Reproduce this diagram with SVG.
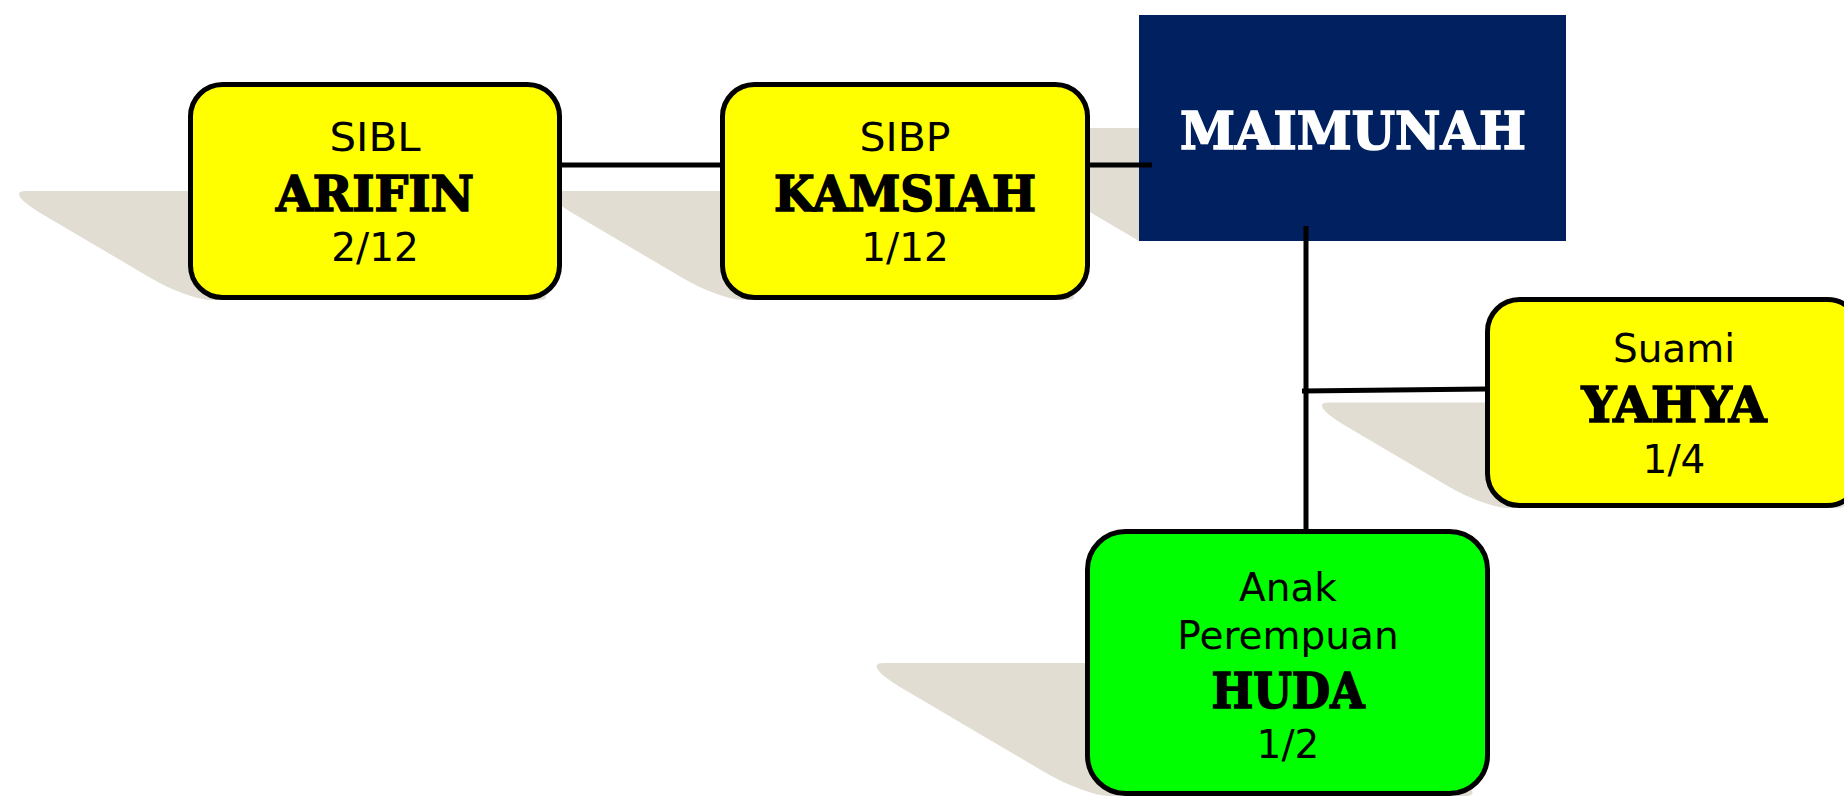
<svg xmlns="http://www.w3.org/2000/svg" width="1844" height="797" viewBox="0 0 1844 797">
  <style>
    .shadow { fill: #E2DDD2; }
    .box { stroke: #000; stroke-width: 5; }
    .yellow { fill: #FFFF00; }
    .green { fill: #00FF00; }
    .small { font-family: "DejaVu Sans", Verdana, sans-serif; font-size: 39px; fill: #000; text-anchor: middle; }
    .bold { font-family: "DejaVu Serif", "Liberation Serif", serif; font-weight: bold; font-size: 48px; fill: #000; stroke: #000; stroke-width: 1.6; text-anchor: middle; }
    .conn { stroke: #000; stroke-width: 5; fill: none; }
  </style>
  <rect width="1844" height="797" fill="#FFFFFF"/>

  <g id="shadows">
    <rect class="shadow" x="0" y="-109" width="374" height="109" rx="22" ry="22" transform="translate(188,300) skewX(59.5)"/>
    <rect class="shadow" x="0" y="-109" width="370" height="109" rx="22" ry="22" transform="translate(720,300) skewX(59.5)"/>
    <rect class="shadow" x="0" y="-113" width="427" height="113" transform="translate(1139,241) skewX(59.5)"/>
    <rect class="shadow" x="0" y="-105.5" width="375" height="105.5" rx="22" ry="22" transform="translate(1485,508) skewX(59.5)"/>
    <rect class="shadow" x="0" y="-133" width="405" height="133" rx="24" ry="24" transform="translate(1085,796) skewX(59.5)"/>
  </g>

  <g id="node-arifin">
    <rect class="box yellow" x="190.5" y="84.5" width="369" height="213" rx="32" ry="32"/>
    <text class="small" x="375" y="151" textLength="91" lengthAdjust="spacingAndGlyphs">SIBL</text>
    <text class="bold" x="375" y="211" textLength="198" lengthAdjust="spacingAndGlyphs">ARIFIN</text>
    <text class="small" x="375" y="261">2/12</text>
  </g>

  <g id="node-kamsiah">
    <rect class="box yellow" x="722.5" y="84.5" width="365" height="213" rx="32" ry="32"/>
    <text class="small" x="905" y="151" textLength="91" lengthAdjust="spacingAndGlyphs">SIBP</text>
    <text class="bold" x="905" y="211" textLength="262" lengthAdjust="spacingAndGlyphs">KAMSIAH</text>
    <text class="small" x="905" y="261">1/12</text>
  </g>

  <g id="node-maimunah">
    <rect x="1139" y="15" width="427" height="226" fill="#012060"/>
    <text class="bold" x="1353" y="149" style="fill:#FFFFFF;stroke:#FFFFFF;font-size:52px" textLength="346" lengthAdjust="spacingAndGlyphs">MAIMUNAH</text>
  </g>

  <g id="node-yahya">
    <rect class="box yellow" x="1487.5" y="299.5" width="372" height="206" rx="32" ry="32"/>
    <text class="small" x="1674" y="362">Suami</text>
    <text class="bold" x="1674" y="422" textLength="185" lengthAdjust="spacingAndGlyphs">YAHYA</text>
    <text class="small" x="1674" y="473">1/4</text>
  </g>

  <g id="node-huda">
    <rect class="box green" x="1087.5" y="531.5" width="400" height="262" rx="38" ry="38"/>
    <text class="small" x="1288" y="601">Anak</text>
    <text class="small" x="1288" y="649">Perempuan</text>
    <text class="bold" x="1288" y="708" textLength="153" lengthAdjust="spacingAndGlyphs">HUDA</text>
    <text class="small" x="1288" y="758">1/2</text>
  </g>

  <g id="connectors">
    <line class="conn" x1="562" y1="165" x2="720" y2="165"/>
    <line class="conn" x1="1090" y1="165" x2="1152" y2="165"/>
    <line class="conn" x1="1306" y1="226" x2="1306" y2="529"/>
    <line class="conn" x1="1302" y1="391" x2="1486" y2="389"/>
  </g>
</svg>
